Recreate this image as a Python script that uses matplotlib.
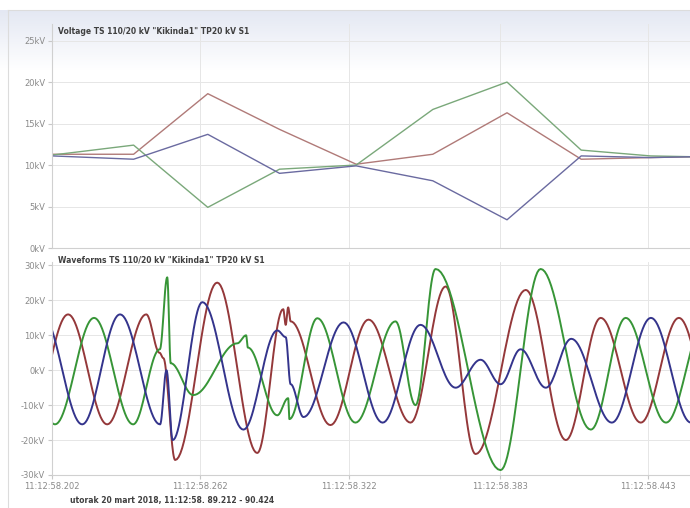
import numpy as np
import matplotlib.pyplot as plt
from matplotlib.colors import LinearSegmentedColormap
from matplotlib.ticker import FixedLocator

# --- RMS trend (ms after 11:12:58.000, kV) ---
rms_t = [202, 235, 265, 294, 325, 356, 386, 416, 444, 461]
rms_red = [11.3, 11.3, 18.6, 14.3, 10.1, 11.3, 16.3, 10.7, 10.9, 11.0]
rms_green = [11.2, 12.4, 4.9, 9.5, 10.0, 16.7, 20.0, 11.8, 11.1, 11.0]
rms_blue = [11.1, 10.7, 13.7, 9.0, 9.9, 8.1, 3.4, 11.1, 10.9, 11.0]

# --- waveform turning points (ms, kV) ---
red_t = [192.7, 208.5, 224.3, 240.1, 245.5, 247.0, 251.8, 268.8, 285.0, 295.5, 296.5, 297.5, 298.5,
         314.6, 330.0, 347.0, 361.2, 373.3, 393.6, 409.8, 423.9, 440.1, 455.5, 471.0]
red_v = [-16, 16, -15.5, 16, 5, 3.5, -25.7, 25.1, -23.7, 17.5, 13, 18, 14,
         -15.7, 14.5, -15, 24, -24, 23, -20, 15, -15, 15, -15]

green_t = [187.4, 203.2, 219.0, 234.8, 245.6, 248.6, 250.0, 259.1, 276.9, 280.5, 281.2, 293.1, 297.5, 298.0,
           309.3, 324.7, 340.9, 349.0, 357.1, 383.4, 399.6, 419.9, 434.0, 450.3, 466.5]
green_v = [16, -15.5, 15, -15.5, 6, 26.6, 2, -7.1, 7.7, 10, 6.5, -12.9, -8, -14,
           14.9, -15, 14, -10, 29, -28.6, 29, -17, 15, -15, 15]

blue_t = [198.0, 214.2, 229.5, 245.7, 248.3, 250.8, 262.8, 279.4, 293.1, 296.5, 298.5, 303.7,
          319.9, 335.7, 351.0, 365.2, 375.3, 383.4, 391.5, 401.7, 412.0, 428.4, 444.2, 460.4]
blue_v = [16, -15.5, 16, -15.5, 0, -20, 19.5, -17, 11.4, 9.5, -4, -13.4,
          13.7, -15, 13, -5, 3, -4, 6, -5, 9, -15, 15, -15]

tick_t = [202, 262, 322, 383, 443]
tick_lbl = ["11:12:58.202", "11:12:58.262", "11:12:58.322", "11:12:58.383", "11:12:58.443"]

C_RED, C_GREEN, C_BLUE = "#94383a", "#379537", "#34348c"
C_RED_L, C_GREEN_L, C_BLUE_L = "#b07a78", "#7aa87a", "#6a6aa0"


def smooth(ts, vs, n=24):
    # half-cosine between successive turning points
    xs, ys = [], []
    for i in range(len(ts) - 1):
        s = np.linspace(0, 1, n, endpoint=False)
        w = (1 - np.cos(np.pi * s)) / 2
        xs.append(ts[i] + (ts[i + 1] - ts[i]) * s)
        ys.append(vs[i] + (vs[i + 1] - vs[i]) * w)
    xs.append([ts[-1]])
    ys.append([vs[-1]])
    return np.concatenate(xs), np.concatenate(ys)


fig = plt.figure(figsize=(6.9, 5.08), dpi=100)
fig.patch.set_facecolor("white")

# soft header band
band = fig.add_axes([0, 0.86, 1, 0.12], zorder=-5)
band.imshow(np.linspace(1, 0, 50)[:, None], aspect="auto",
            cmap=LinearSegmentedColormap.from_list("b", ["#ffffff", "#e4e8f3"]), extent=[0, 1, 0, 1])
band.axis("off")

L, W = 52 / 690, 1 - 52 / 690
ax1 = fig.add_axes([L, 1 - 248 / 508, W, (248 - 24) / 508])
ax2 = fig.add_axes([L, 1 - 475 / 508, W, (475 - 262) / 508])
for ax in (ax1, ax2):
    ax.set_facecolor("none")
    ax.set_xlim(202, 460)
    ax.xaxis.set_major_locator(FixedLocator(tick_t))
    ax.grid(True, color="#e6e6e6", lw=0.7)
    for s in ("top", "right"):
        ax.spines[s].set_visible(False)
    ax.spines["left"].set_color("#d0d0d0")
    ax.spines["bottom"].set_color("#d0d0d0")
    ax.tick_params(length=3, color="#c8c8c8", labelsize=6, labelcolor="#8a8a8a", pad=2)

ax1.plot(rms_t, rms_red, color=C_RED_L, lw=1.0)
ax1.plot(rms_t, rms_green, color=C_GREEN_L, lw=1.0)
ax1.plot(rms_t, rms_blue, color=C_BLUE_L, lw=1.0)
ax1.set_ylim(0, 27)
ax1.set_yticks([0, 5, 10, 15, 20, 25])
ax1.set_yticklabels([f"{v}kV" for v in [0, 5, 10, 15, 20, 25]])
ax1.set_xticklabels([])
ax1.tick_params(axis="x", length=0)
ax1.text(0.01, 0.985, 'Voltage TS 110/20 kV "Kikinda1" TP20 kV S1', transform=ax1.transAxes,
         fontsize=5.5, fontweight="bold", color="#404040", va="top")

for ts, vs, c in ((red_t, red_v, C_RED), (green_t, green_v, C_GREEN), (blue_t, blue_v, C_BLUE)):
    x, y = smooth(ts, vs)
    ax2.plot(x, y, color=c, lw=1.4)
ax2.set_ylim(-30, 31)
ax2.set_yticks([-30, -20, -10, 0, 10, 20, 30])
ax2.set_yticklabels([f"{v}kV" for v in [-30, -20, -10, 0, 10, 20, 30]])
ax2.set_xticklabels(tick_lbl)
ax2.text(0.01, 1.03, 'Waveforms TS 110/20 kV "Kikinda1" TP20 kV S1', transform=ax2.transAxes,
         fontsize=5.5, fontweight="bold", color="#404040", va="top")

fig.text(70 / 690, 1 - 500 / 508, "utorak 20 mart 2018, 11:12:58. 89.212 - 90.424",
         fontsize=5.5, fontweight="bold", color="#404040", va="center")

# outer frame
fig.add_artist(plt.Line2D([8 / 690, 8 / 690], [0, 1 - 10 / 508], color="#dcdcdc", lw=0.8))
fig.add_artist(plt.Line2D([8 / 690, 1], [1 - 10 / 508, 1 - 10 / 508], color="#dcdcdc", lw=0.8))

fig.savefig("out.png", dpi=100)
